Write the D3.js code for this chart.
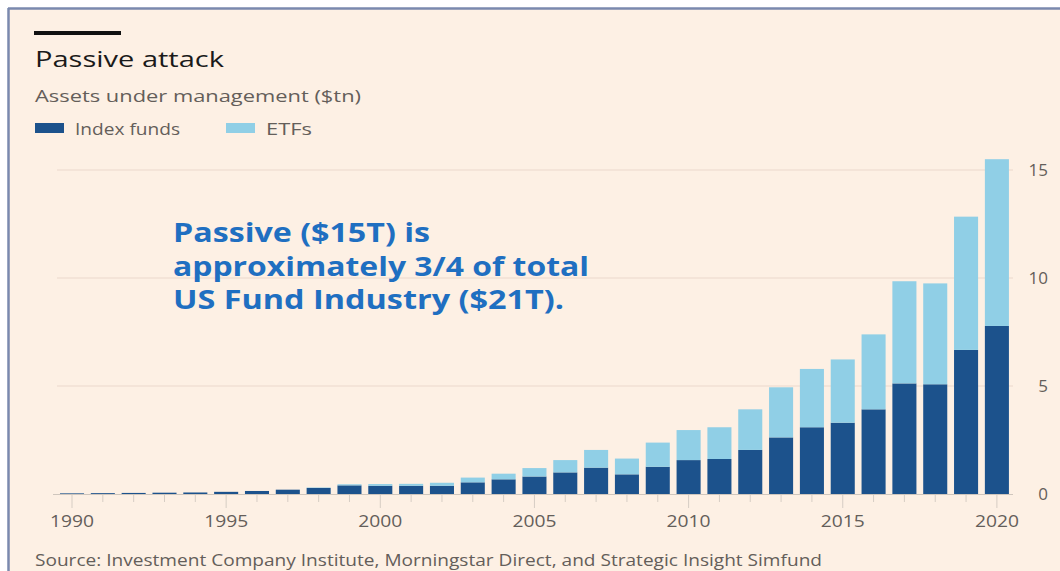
<!DOCTYPE html>
<html lang="en">
<head>
<meta charset="utf-8">
<title>Passive attack</title>
<script src="https://cdn.jsdelivr.net/npm/d3@7"></script>
<style>
  body { margin: 0; background: #fff; }
  svg { display: block; }
</style>
</head>
<body>
<script>
// Data (assets under management, $tn)
var years = d3.range(1990, 2021);
var indexFunds = [0.03, 0.04, 0.05, 0.06, 0.07, 0.10, 0.14, 0.20, 0.28, 0.40, 0.38,
                  0.38, 0.38, 0.54, 0.68, 0.81, 1.00, 1.22, 0.91, 1.26, 1.57,
                  1.62, 2.04, 2.62, 3.09, 3.30, 3.92, 5.12, 5.08, 6.67, 7.78];
var etfs = [0, 0, 0, 0, 0, 0, 0, 0, 0.02, 0.05, 0.08,
            0.09, 0.14, 0.22, 0.26, 0.39, 0.57, 0.82, 0.73, 1.12, 1.39,
            1.47, 1.88, 2.32, 2.70, 2.93, 3.47, 4.73, 4.67, 6.17, 7.72];
var yTicks = [0, 5, 10, 15];
var xLabels = [1990, 1995, 2000, 2005, 2010, 2015, 2020];
var seriesNames = ["Index funds", "ETFs"];
var seriesColors = ["#1c528c", "#90cfe6"];
var noteLines = ["Passive ($15T) is", "approximately 3/4 of total", "US Fund Industry ($21T)."];

var W = 1060, H = 571;
var paper = "#fdf0e4", grey = "#645e5a";
var font = "'Open Sans', sans-serif";

var svg = d3.select("body").append("svg")
  .attr("width", W).attr("height", H);

// panel with border
svg.append("rect")
  .attr("x", 9).attr("y", 9).attr("width", W).attr("height", H)
  .attr("fill", paper);
svg.append("line").attr("x1", 8).attr("x2", W).attr("y1", 8.5).attr("y2", 8.5)
  .attr("stroke", "#7a89ae").attr("stroke-width", 2.5);
svg.append("line").attr("x1", 8.5).attr("x2", 8.5).attr("y1", 8).attr("y2", H)
  .attr("stroke", "#7a89ae").attr("stroke-width", 2.5);

// header
svg.append("rect").attr("x", 34).attr("y", 31).attr("width", 87).attr("height", 4).attr("fill", "#111");
svg.append("text").attr("x", 35).attr("y", 67)
  .attr("font-family", font).attr("font-size", 22).attr("font-weight", 500).attr("fill", "#1a1a1a")
  .attr("textLength", 189).attr("lengthAdjust", "spacingAndGlyphs")
  .text("Passive attack");
svg.append("text").attr("x", 35).attr("y", 102)
  .attr("font-family", font).attr("font-size", 17).attr("fill", grey)
  .attr("textLength", 326).attr("lengthAdjust", "spacingAndGlyphs")
  .text("Assets under management ($tn)");

// legend
var legendX = [35, 226], legendW = [105, 46];
seriesNames.forEach(function(name, i) {
  svg.append("rect").attr("x", legendX[i]).attr("y", 123).attr("width", 29).attr("height", 10)
    .attr("fill", seriesColors[i]);
  svg.append("text").attr("x", legendX[i] + 40).attr("y", 134.5)
    .attr("font-family", font).attr("font-size", 16).attr("fill", grey)
    .attr("textLength", legendW[i]).attr("lengthAdjust", "spacingAndGlyphs")
    .text(name);
});

// scales
var x = d3.scaleBand().domain(years).range([53.2, 1015.7]).paddingInner(0.22).paddingOuter(0.22);
var y = d3.scaleLinear().domain([0, 15]).range([494, 170]);

// gridlines
svg.append("g").selectAll("line").data(yTicks.filter(function(d) { return d > 0; }))
  .join("line")
  .attr("x1", 57).attr("x2", 1013)
  .attr("y1", function(d) { return y(d); }).attr("y2", function(d) { return y(d); })
  .attr("stroke", "#f1e1d4").attr("stroke-width", 1.5);

// y labels on right
svg.append("g").selectAll("text").data(yTicks).join("text")
  .attr("x", 1048).attr("y", function(d) { return y(d); })
  .attr("dy", "0.35em").attr("text-anchor", "end")
  .attr("font-family", font).attr("font-size", 17).attr("font-weight", 500).attr("fill", grey)
  .text(function(d) { return d; });

// stacked bars
var rows = years.map(function(yr, i) { return { year: yr, index: indexFunds[i], etf: etfs[i] }; });
var stacked = d3.stack().keys(["index", "etf"])(rows);
svg.append("g").selectAll("g").data(stacked).join("g")
  .attr("fill", function(d, i) { return seriesColors[i]; })
  .selectAll("rect").data(function(d) { return d; }).join("rect")
  .attr("x", function(d) { return x(d.data.year); })
  .attr("width", x.bandwidth())
  .attr("y", function(d) { return y(d[1]); })
  .attr("height", function(d) { return Math.max(0, y(d[0]) - y(d[1])); });

// baseline and ticks
svg.append("line").attr("x1", 53).attr("x2", 1013).attr("y1", 494.5).attr("y2", 494.5)
  .attr("stroke", "#cfc6bd").attr("stroke-width", 1);
svg.append("g").selectAll("line").data(years).join("line")
  .attr("x1", function(d) { return x(d) + x.bandwidth() / 2; })
  .attr("x2", function(d) { return x(d) + x.bandwidth() / 2; })
  .attr("y1", 495)
  .attr("y2", function(d) { return d % 5 === 0 ? 508 : 502; })
  .attr("stroke", "#d6cdc4").attr("stroke-width", 1);
svg.append("g").selectAll("text").data(xLabels).join("text")
  .attr("x", function(d) { return x(d) + x.bandwidth() / 2 - 22; })
  .attr("y", 527)
  .attr("font-family", font).attr("font-size", 17).attr("font-weight", 500).attr("fill", grey)
  .attr("textLength", 44).attr("lengthAdjust", "spacingAndGlyphs")
  .text(function(d) { return d; });

// annotation
var noteW = [257, 416, 391];
svg.append("g").selectAll("text").data(noteLines).join("text")
  .attr("x", 173).attr("y", function(d, i) { return 242 + i * 33.5; })
  .attr("font-family", font).attr("font-weight", "bold").attr("font-size", 27)
  .attr("fill", "#1f6fc1")
  .attr("textLength", function(d, i) { return noteW[i]; })
  .attr("lengthAdjust", "spacingAndGlyphs")
  .text(function(d) { return d; });

// source
svg.append("text").attr("x", 35).attr("y", 566)
  .attr("font-family", font).attr("font-size", 16).attr("fill", grey)
  .attr("textLength", 787).attr("lengthAdjust", "spacingAndGlyphs")
  .text("Source: Investment Company Institute, Morningstar Direct, and Strategic Insight Simfund");
</script>
</body>
</html>
